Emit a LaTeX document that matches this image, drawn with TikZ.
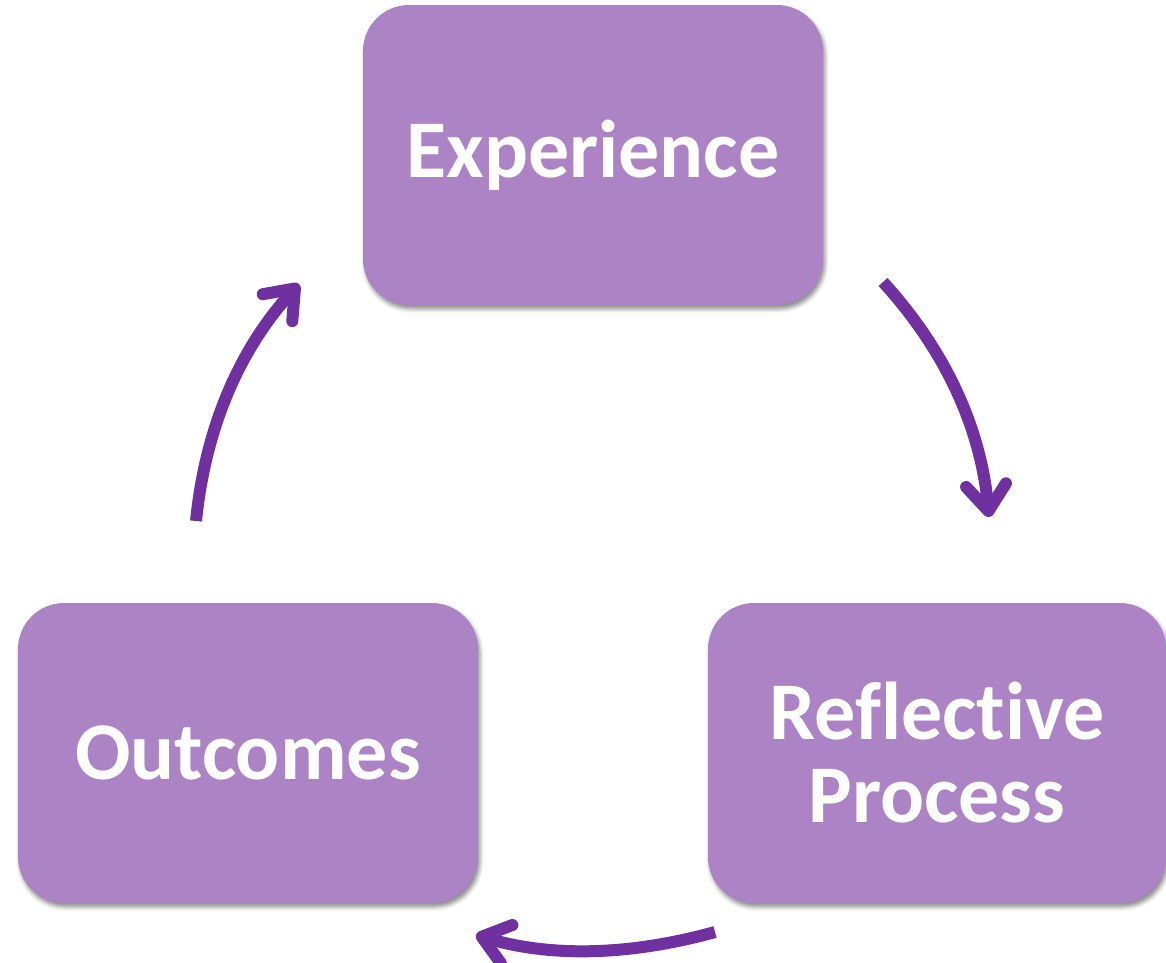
\documentclass[tikz,border=0pt]{standalone}
\usepackage{fontspec}
\setmainfont{Carlito}[Ligatures=NoCommon]
\usetikzlibrary{arrows.meta,shadows.blur}
\definecolor{boxfill}{HTML}{AC83C5}
\definecolor{arrowcol}{HTML}{7030A0}
\begin{document}
\begin{tikzpicture}[x=1pt,y=-1pt,
  stagebox/.style={draw=none, fill=boxfill, rounded corners=46pt,
    minimum width=460pt, minimum height=300pt, inner sep=0pt,
    text=white, align=center,
    font=\fontsize{82}{83}\selectfont\bfseries,
    blur shadow={shadow xshift=2pt, shadow yshift=-4pt, shadow blur radius=4pt, shadow opacity=45}},
  cyclearrow/.style={draw=arrowcol, line width=12pt, line cap=butt,
    -{Straight Barb[length=26pt, width=40pt, round]}}
]
\useasboundingbox (0,0) rectangle (1166,962);
\node[stagebox] (exp) at (593,155) {Experience};
\node[stagebox] (out) at (248,753) {Outcomes};
\node[stagebox, minimum width=458pt] (ref) at (937,753) {\raisebox{4pt}{\parbox{400pt}{\centering Reflective\\Process}}};
\coordinate (a1s) at (883,282);
\coordinate (a1e) at (989,517);
\coordinate (a2s) at (715,932);
\coordinate (a2e) at (476,935);
\coordinate (a3s) at (196,521);
\coordinate (a3e) at (299,284);
\draw[cyclearrow] (a1s) .. controls (945.7,350.7) and (980.7,428) .. (a1e);
\draw[cyclearrow] (a2s) .. controls (628.3,956) and (549.7,957) .. (a2e);
\draw[cyclearrow] (a3s) .. controls (205.3,428.3) and (239,350) .. (a3e);
\end{tikzpicture}
\end{document}
